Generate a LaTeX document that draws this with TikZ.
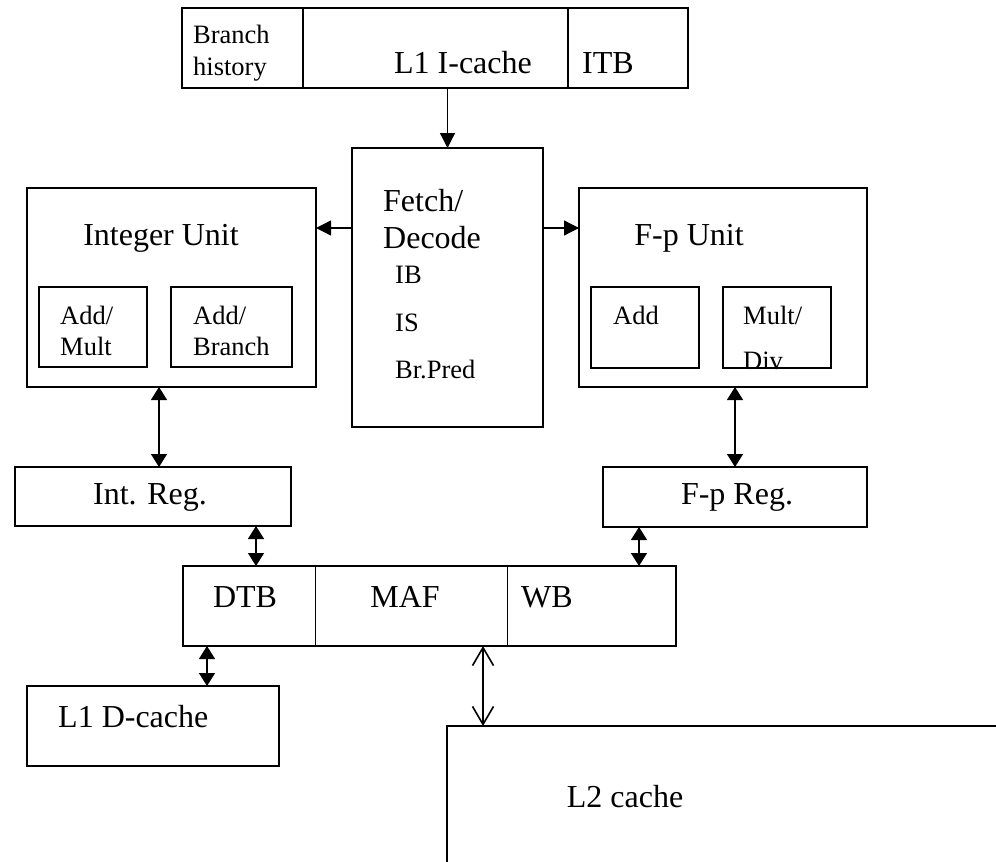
\documentclass[tikz,border=0pt]{standalone}
\usepackage{fontspec}
\setmainfont{Liberation Serif}
\usetikzlibrary{arrows.meta}

\newcommand{\bigtxt}{\fontsize{32}{37}\selectfont}
\newcommand{\smalltxt}{\fontsize{26.5}{31.5}\selectfont}

\tikzset{
    blk/.style={draw, line width=1.8pt, rectangle, inner sep=0pt, outer sep=0pt, anchor=north west},
    cell/.style={draw, line width=1pt, rectangle, inner sep=0pt, outer sep=0pt, anchor=north west},
    arr/.style={line width=1.3pt, -{Triangle[length=15pt, width=15pt]}},
    dbl/.style={line width=1.3pt, {Triangle[length=13pt, width=16pt]}-{Triangle[length=13pt, width=16pt]}},
    opn/.style={line width=1.6pt, {Straight Barb[length=18pt, width=21pt]}-{Straight Barb[length=18pt, width=21pt]}},
    big/.style={font=\bigtxt, inner sep=0pt},
    sml/.style={font=\smalltxt, inner sep=0pt, align=left}
}

\begin{document}
\begin{tikzpicture}[x=1pt, y=-1pt]
    \useasboundingbox (0,0) rectangle (996,862);

    % instruction side
    \node[blk, minimum width=121pt, minimum height=80pt] (bhist) at (182,8) {};
    \node[blk, minimum width=265pt, minimum height=80pt] (icache) at (303,8) {};
    \node[blk, minimum width=120pt, minimum height=80pt] (itb) at (568,8) {};
    \node[sml, anchor=west] (bhisttxt) at (193,53) {Branch\\history};
    \node[big] (icachetxt) at (463,63) {L1 I-cache};
    \node[big] (itbtxt) at (608,63) {ITB};

    % fetch / decode
    \node[blk, minimum width=191pt, minimum height=279pt] (fetch) at (352,148) {};
    \node[big, anchor=west, align=left] (fetchtxt) at (383,219) {Fetch/\\Decode};
    \node[sml, anchor=west, font=\fontsize{26.5}{47.5}\selectfont] (fetchsub) at (395,323) {IB\\IS\\Br.Pred};

    % integer unit
    \node[blk, minimum width=289pt, minimum height=199pt] (intu) at (27,188) {};
    \node[big] (intutxt) at (161,238) {Integer Unit};
    \node[blk, minimum width=108pt, minimum height=80pt] (addmul) at (39,287) {};
    \node[blk, minimum width=121pt, minimum height=80pt] (addbr) at (171,287) {};
    \node[sml, anchor=west] (addmultxt) at (60,331) {Add/\\Mult};
    \node[sml, anchor=west] (addbrtxt) at (193,331) {Add/\\Branch};

    % floating point unit
    \node[blk, minimum width=288pt, minimum height=199pt] (fpu) at (579,188) {};
    \node[big] (fputxt) at (689,238) {F-p Unit};
    \node[blk, minimum width=108pt, minimum height=81pt] (fpadd) at (591,287) {};
    \node[blk, minimum width=108pt, minimum height=81pt] (fpmul) at (723,287) {};
    \node[sml, anchor=west] (fpaddtxt) at (613,315) {Add};
    \node[sml, anchor=west, font=\fontsize{26.5}{45}\selectfont] (fpmultxt) at (743,338) {Mult/\\Div};

    % registers
    \node[blk, minimum width=276pt, minimum height=59pt] (intreg) at (15,467) {};
    \node[big] (intregtxt) at (150,497) {Int. Reg.};
    \node[blk, minimum width=264pt, minimum height=60pt] (fpreg) at (603,467) {};
    \node[big] (fpregtxt) at (737,497) {F-p Reg.};

    % memory stage
    \node[cell, minimum width=132pt, minimum height=80pt] (dtb) at (183,566) {};
    \node[cell, minimum width=192pt, minimum height=80pt] (maf) at (315,566) {};
    \node[cell, minimum width=169pt, minimum height=80pt] (wb) at (507,566) {};
    \draw[line width=1.8pt] (dtb.north west) rectangle (wb.south east);
    \node[big] (dtbtxt) at (245,597) {DTB};
    \node[big] (maftxt) at (405,597) {MAF};
    \node[big] (wbtxt) at (547,597) {WB};

    % caches
    \node[blk, minimum width=252pt, minimum height=80pt] (l1d) at (27,686) {};
    \node[big, anchor=west] (l1dtxt) at (58,717) {L1 D-cache};
    \draw[line width=2pt] (447,862) -- (447,726) -- (996,726);
    \node[big] (l2txt) at (625,797) {L2 cache};

    % connectors
    \coordinate (fy) at (0,228);
    \coordinate (ia) at (159,0);
    \coordinate (ra) at (256,0);
    \coordinate (fa) at (639,0);
    \coordinate (da) at (207,0);
    \coordinate (l2) at (483,726);
    \draw[arr] (icache.south -| fetch.north) -- (fetch.north);
    \draw[arr] (fetch.west |- fy) -- (intu.east |- fy);
    \draw[arr] (fetch.east |- fy) -- (fpu.west |- fy);
    \draw[dbl] (intu.south -| ia) -- (intreg.north -| ia);
    \draw[dbl] (fpu.south -| fpreg.north) -- (fpreg.north);
    \draw[dbl] (intreg.south -| ra) -- (dtb.north -| ra);
    \draw[dbl] (fpreg.south -| fa) -- (wb.north -| fa);
    \draw[dbl] (dtb.south -| da) -- (l1d.north -| da);
    \draw[opn] (maf.south -| l2) -- (l2);
\end{tikzpicture}
\end{document}
